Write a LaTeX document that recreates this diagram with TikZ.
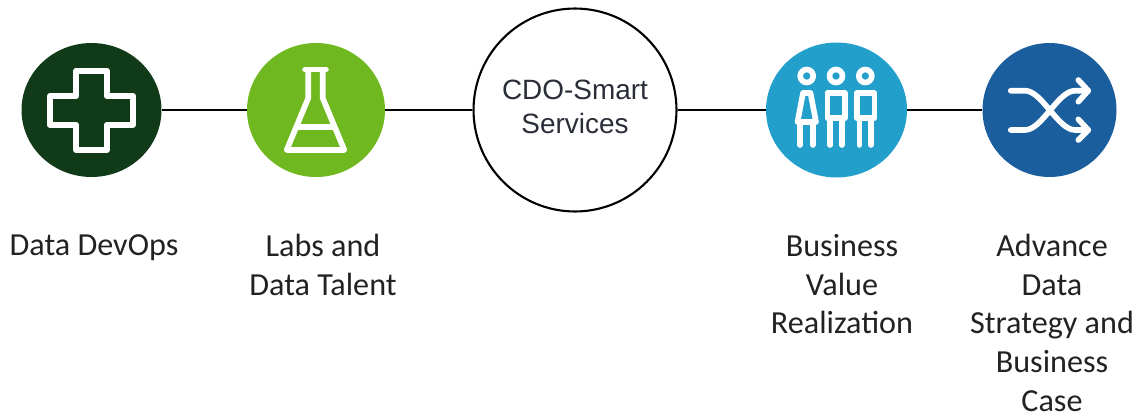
\documentclass[tikz,border=0pt]{standalone}
\usepackage{xcolor}
\usepackage{fontspec}
\setmainfont{Carlito}
\newfontfamily\hubfont{Liberation Sans}
\usetikzlibrary{calc,shapes.geometric}

\definecolor{devopsgreen}{HTML}{113A18}
\definecolor{labsgreen}{HTML}{6FB81F}
\definecolor{valueblue}{HTML}{239FCB}
\definecolor{strategyblue}{HTML}{1A5E9E}
\definecolor{labeltext}{HTML}{222222}
\definecolor{hubtext}{HTML}{2A2E38}

\tikzset{
  spot/.style={ellipse, inner sep=0pt, minimum width=#1, draw=none},
  caption/.style={align=center, text=labeltext, font=\fontsize{18.3}{22}\selectfont, inner sep=0pt, anchor=north},
  icon/.style={draw=white, line width=3.2pt, line cap=round, line join=round},
  link/.style={draw=black, line width=1.2pt}
}

\begin{document}
\begin{tikzpicture}[x=0.02cm,y=-0.02cm]
  \useasboundingbox (0,0) rectangle (1141,416);

  \node[spot=2.80cm, minimum height=2.68cm, fill=devopsgreen] (devops) at (91.5,110) {};
  \node[spot=2.76cm, minimum height=2.68cm, fill=labsgreen] (labs) at (316,110) {};
  \node[ellipse, inner sep=0pt, minimum width=4.06cm, minimum height=4.06cm, draw=black, line width=1.2pt, fill=white] (hub) at (575,110) {};
  \node[spot=2.82cm, minimum height=2.70cm, fill=valueblue] (value) at (836.5,110) {};
  \node[spot=2.68cm, minimum height=2.68cm, fill=strategyblue] (strategy) at (1049.5,110) {};

  \foreach \a/\b in {devops/labs, labs/hub, hub/value, value/strategy} {%
    \draw[link] (\a) -- (\b); }%

  \node[align=center, inner sep=0pt, text=hubtext, font=\hubfont\fontsize{15.9}{19.3}\selectfont] (hubtext) at (575,107) {CDO-Smart\\Services};

  % cross
  \draw[icon, line width=3.5pt] (76.3,70.7) -- (106.7,70.7) -- (106.7,96) -- (132.7,96) -- (132.7,124.7) -- (106.7,124.7) -- (106.7,150) -- (76.3,150) -- (76.3,124.7) -- (50,124.7) -- (50,96) -- (76.3,96) -- cycle;%

  % flask
  \draw[icon] (305,69.5) -- (326,69.5);%
  \draw[icon] (308.3,70) -- (308.3,98) -- (286.7,150) -- (344.3,150) -- (322.7,98) -- (322.7,70);%
  \draw[icon] (297.7,126.7) -- (333,126.7);%

  % people
  \foreach \x in {806.7,836,865.3} { \draw[icon] (\x,76) circle (6.5); }%
  \draw[icon] (803,93) -- (810.5,93) -- (816,122) -- (797.5,122) -- cycle;%
  \foreach \x in {800,812.7} { \draw[icon] (\x,122) -- (\x,145); }%
  \foreach \x in {827.3,856.7} { \draw[icon] (\x,93) rectangle ++(17.7,25); }%
  \foreach \x in {830,841.7,859.3,871} { \draw[icon] (\x,118) -- (\x,145); }%

  % shuffle
  \draw[icon] (1010.7,90.7) -- (1025,90.7) .. controls (1042,90.7) and (1058,130) .. (1075,130) -- (1088,130);%
  \draw[icon] (1010.7,130) -- (1025,130) .. controls (1042,130) and (1058,90.7) .. (1075,90.7) -- (1088,90.7);%
  \draw[icon] (1078.3,80) -- (1088.3,90.7) -- (1078.3,101.7);%
  \draw[icon] (1078.3,119.3) -- (1088.3,130) -- (1078.3,140);%

  \node[caption] (devopstext) at (94,234) {Data DevOps};
  \node[caption] (labstext) at (323,234) {Labs and\\Data Talent};
  \node[caption] (valuetext) at (842,234) {Business\\Value\\Realization};
  \node[caption] (strategytext) at (1052,234) {Advance\\Data\\Strategy and\\Business\\Case};
\end{tikzpicture}
\end{document}
